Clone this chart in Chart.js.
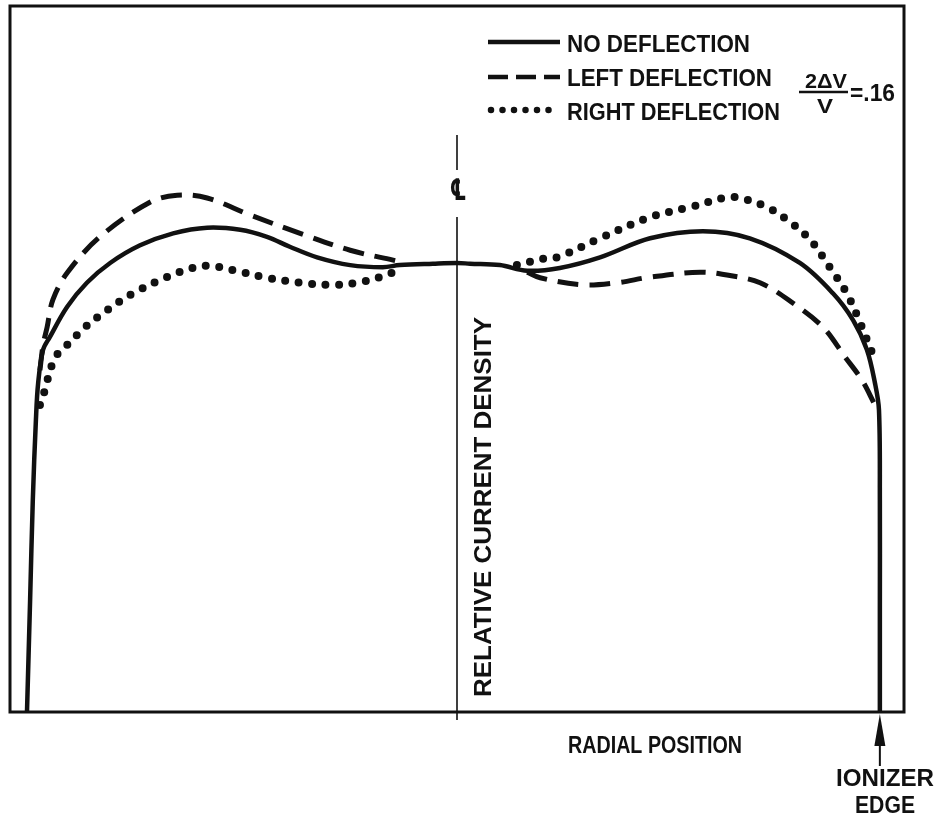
<!DOCTYPE html>
<html>
<head>
<meta charset="utf-8">
<script src="https://cdn.jsdelivr.net/npm/chart.js@4.4.1/dist/chart.umd.min.js"></script>
<style>
  html, body { margin: 0; padding: 0; background: #fff; }
  canvas { display: block; }
</style>
</head>
<body>
<canvas id="chart" width="937" height="818"></canvas>
<script>
// radial position: -1 = left wall of the frame, 0 = centre line, +1 = right wall
// relative current density: 0 = bottom of the frame, 1 = top of the frame
const noDeflection = [
    [-0.962, 0], [-0.955, 0.159], [-0.949, 0.300], [-0.942, 0.414], [-0.937, 0.466],
    [-0.926, 0.513], [-0.911, 0.531], [-0.872, 0.574], [-0.828, 0.608], [-0.776, 0.636],
    [-0.709, 0.661], [-0.635, 0.678], [-0.559, 0.686], [-0.485, 0.683], [-0.425, 0.673],
    [-0.374, 0.659], [-0.313, 0.644], [-0.239, 0.633], [-0.166, 0.630], [-0.128, 0.633],
    [-0.054, 0.635], [0, 0.636], [0.029, 0.635], [0.096, 0.633], [0.157, 0.625],
    [0.230, 0.629], [0.320, 0.644], [0.432, 0.671], [0.550, 0.681], [0.655, 0.671],
    [0.767, 0.636], [0.841, 0.593], [0.886, 0.555], [0.917, 0.513], [0.935, 0.466],
    [0.944, 0.428], [0.946, 0.300], [0.946, 0.150], [0.946, 0]
];
const leftDeflection = [
    [-0.933, 0.484], [-0.926, 0.520], [-0.917, 0.545], [-0.904, 0.584], [-0.872, 0.622],
    [-0.799, 0.673], [-0.687, 0.722], [-0.626, 0.732], [-0.559, 0.728], [-0.463, 0.704],
    [-0.351, 0.678], [-0.239, 0.654], [-0.143, 0.640], [-0.116, 0.636],
    [0, null],
    [0.157, 0.623], [0.186, 0.615], [0.282, 0.605], [0.358, 0.608], [0.432, 0.616],
    [0.544, 0.623], [0.604, 0.619], [0.678, 0.608], [0.752, 0.579], [0.819, 0.545],
    [0.868, 0.503], [0.906, 0.470], [0.935, 0.435], [0.944, 0.425]
];
const rightDeflection = [
    [-0.933, 0.435], [-0.922, 0.456], [-0.915, 0.473], [-0.906, 0.492], [-0.895, 0.506],
    [-0.872, 0.520], [-0.832, 0.545], [-0.783, 0.569], [-0.725, 0.593], [-0.649, 0.616],
    [-0.591, 0.629], [-0.553, 0.632], [-0.501, 0.626], [-0.425, 0.615], [-0.351, 0.608],
    [-0.284, 0.605], [-0.224, 0.608], [-0.172, 0.616], [-0.143, 0.623], [-0.128, 0.632],
    [0, null],
    [0.134, 0.633], [0.192, 0.642], [0.224, 0.644], [0.320, 0.671], [0.432, 0.701],
    [0.521, 0.715], [0.604, 0.729], [0.633, 0.728], [0.694, 0.715], [0.745, 0.694],
    [0.790, 0.669], [0.834, 0.630], [0.872, 0.593], [0.902, 0.551], [0.928, 0.510]
];
const seriesLabels = ['NO DEFLECTION', 'LEFT DEFLECTION', 'RIGHT DEFLECTION'];
const centreLine = 0;      // radial position of the centre line
const ionizerEdge = 0.946; // radial position of the ionizer edge

const ink = '#111';
const FONT = '"Liberation Sans Narrow", "Liberation Sans", Arial, sans-serif';
const lineStyles = [
    { borderWidth: 4.5, borderDash: [], borderCapStyle: 'butt' },
    { borderWidth: 5, borderDash: [21, 11], borderCapStyle: 'butt' },
    { borderWidth: 8, borderDash: [0, 13.5], borderCapStyle: 'round' }
];

const toPoints = (rows) => rows.map(([x, y]) => ({ x, y }));

// bold text squeezed/stretched to a given width, vertically centred on the caps
function drawFitted(ctx, text, left, centerY, width, size) {
    ctx.save();
    ctx.font = 'bold ' + size + 'px ' + FONT;
    ctx.textAlign = 'left';
    ctx.textBaseline = 'alphabetic';
    const w = ctx.measureText(text).width;
    ctx.translate(left, centerY + size * 0.358);
    ctx.scale(width / w, 1);
    ctx.fillText(text, 0, 0);
    ctx.restore();
}

const decorations = {
    id: 'decorations',
    afterDatasetsDraw(chart) {
        const ctx = chart.ctx;
        const { left, right, top, bottom } = chart.chartArea;
        const xs = chart.scales.x;
        ctx.save();
        ctx.fillStyle = ink;
        ctx.strokeStyle = ink;

        // frame
        ctx.lineWidth = 3;
        ctx.strokeRect(left, top, right - left, bottom - top);

        // centre line with the CL symbol
        const cx = xs.getPixelForValue(centreLine);
        ctx.lineWidth = 1.6;
        ctx.beginPath();
        ctx.moveTo(cx, 135); ctx.lineTo(cx, 170);
        ctx.moveTo(cx, 217); ctx.lineTo(cx, bottom + 8);
        ctx.stroke();
        ctx.save();
        ctx.font = 'bold 30px "DejaVu Sans", sans-serif';
        ctx.textAlign = 'center';
        ctx.textBaseline = 'middle';
        ctx.translate(cx + 1, 192);
        ctx.scale(0.62, 1);
        ctx.fillText('\u2104', 0, 0);
        ctx.restore();

        // legend
        const rowsY = [42, 77, 110];
        seriesLabels.forEach((label, i) => {
            ctx.save();
            ctx.lineWidth = i === 2 ? 6.5 : 4.5;
            ctx.setLineDash(i === 0 ? [] : i === 1 ? [20, 8] : [0, 11.5]);
            ctx.lineCap = lineStyles[i].borderCapStyle;
            ctx.beginPath();
            ctx.moveTo(i === 2 ? 491 : 488, rowsY[i]);
            ctx.lineTo(560, rowsY[i]);
            ctx.stroke();
            ctx.restore();
        });
        drawFitted(ctx, seriesLabels[0], 567, 43, 183, 24);
        drawFitted(ctx, seriesLabels[1], 567, 77, 205, 24);
        drawFitted(ctx, seriesLabels[2], 567, 111, 213, 24);

        // 2ΔV / V = .16
        drawFitted(ctx, '2\u0394V', 805, 80, 42, 21);
        ctx.lineWidth = 2.5;
        ctx.beginPath();
        ctx.moveTo(799, 92); ctx.lineTo(848, 92);
        ctx.stroke();
        drawFitted(ctx, 'V', 817, 105, 16, 21);
        drawFitted(ctx, '=.16', 850, 93, 45, 23);

        // axis titles
        ctx.save();
        ctx.translate(482, 507);
        ctx.rotate(-Math.PI / 2);
        drawFitted(ctx, 'RELATIVE CURRENT DENSITY', -190, 0, 380, 24);
        ctx.restore();
        drawFitted(ctx, 'RADIAL POSITION', 568, 745, 174, 23);

        // ionizer edge arrow
        const ex = xs.getPixelForValue(ionizerEdge);
        ctx.beginPath();
        ctx.moveTo(ex, bottom + 2);
        ctx.lineTo(ex - 5.5, bottom + 34);
        ctx.lineTo(ex + 5.5, bottom + 34);
        ctx.closePath();
        ctx.fill();
        ctx.lineWidth = 2;
        ctx.beginPath();
        ctx.moveTo(ex, bottom + 30); ctx.lineTo(ex, bottom + 54);
        ctx.stroke();
        drawFitted(ctx, 'IONIZER', 836, 778, 98, 23);
        drawFitted(ctx, 'EDGE', 855, 805, 60, 23);
        ctx.restore();
    }
};

const datasets = [noDeflection, leftDeflection, rightDeflection].map((rows, i) => ({
    label: seriesLabels[i],
    data: toPoints(rows),
    borderColor: ink,
    borderWidth: lineStyles[i].borderWidth,
    borderDash: lineStyles[i].borderDash,
    borderCapStyle: lineStyles[i].borderCapStyle,
    pointRadius: 0,
    tension: 0.35,
    fill: false
}));

new Chart(document.getElementById('chart').getContext('2d'), {
    type: 'line',
    data: { datasets },
    options: {
        responsive: false,
        animation: false,
        layout: { padding: { left: 10, right: 33, top: 6, bottom: 106 } },
        scales: {
            x: { type: 'linear', min: -1, max: 1, display: false },
            y: { type: 'linear', min: 0, max: 1, display: false }
        },
        plugins: {
            legend: { display: false },
            tooltip: { enabled: false }
        }
    },
    plugins: [decorations]
});
</script>
</body>
</html>
